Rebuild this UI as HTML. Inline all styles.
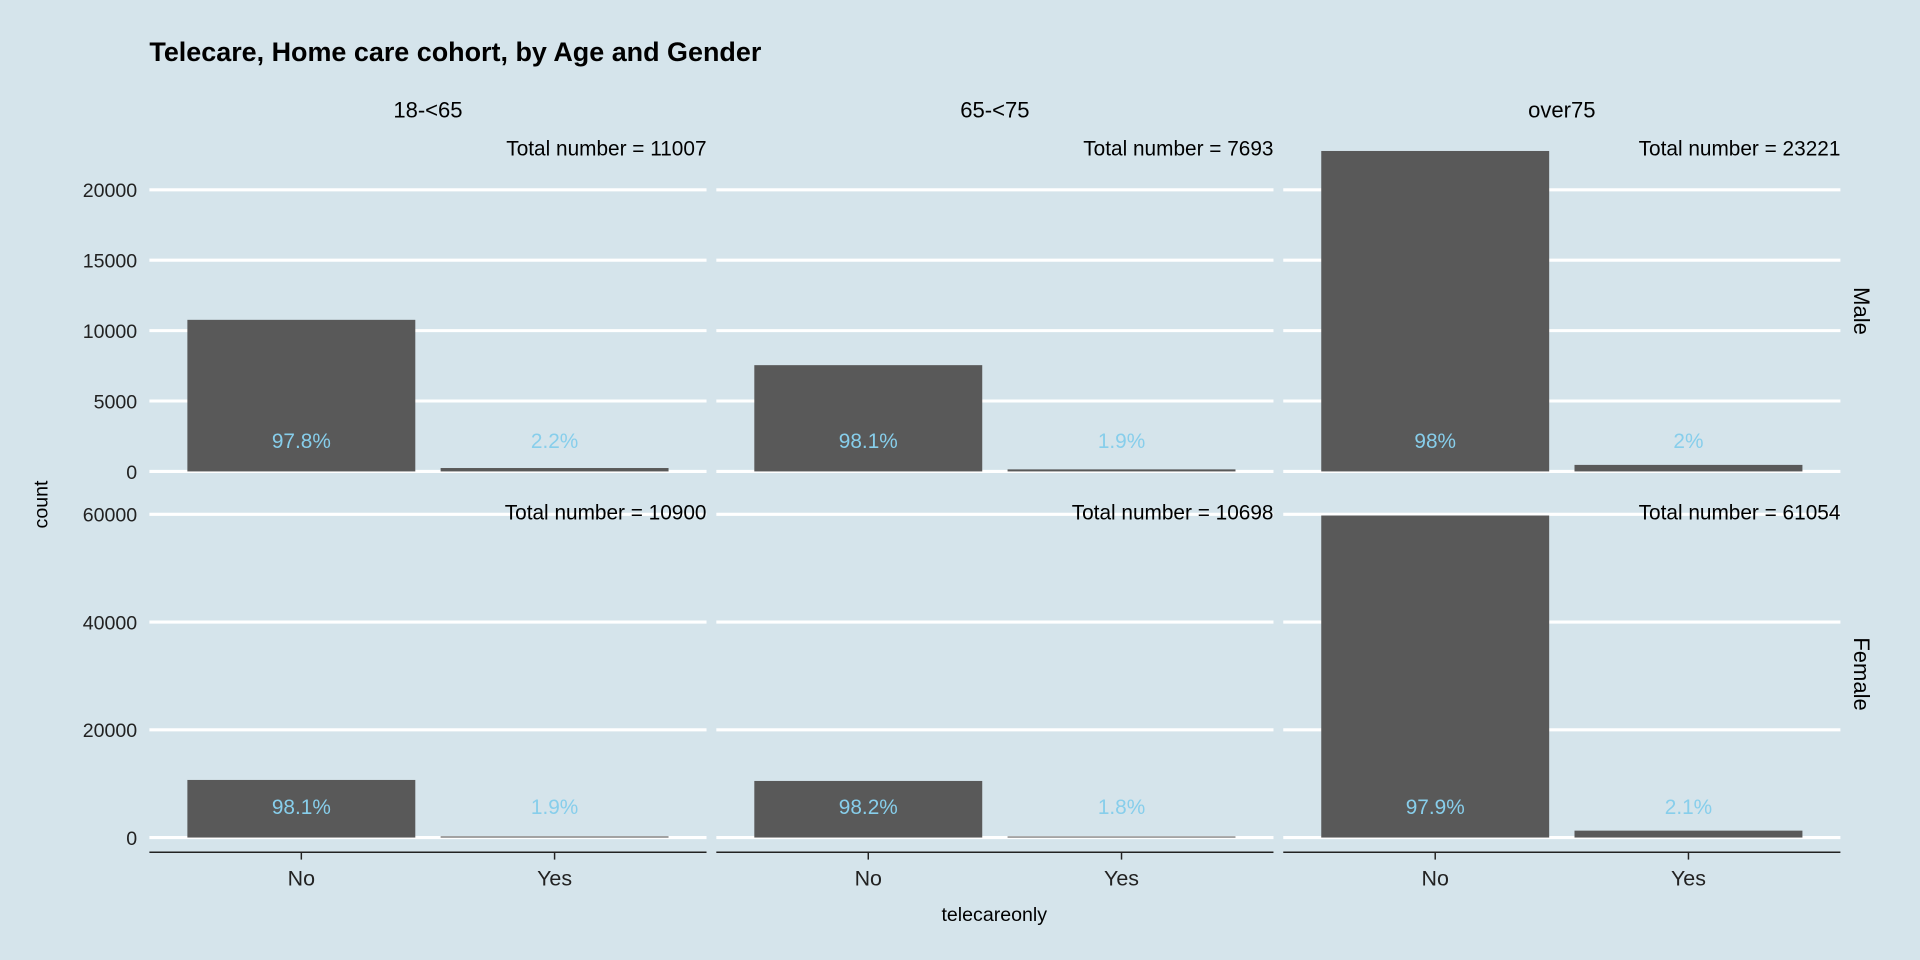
<!DOCTYPE html>
<html><head><meta charset="utf-8"><style>
body{margin:0;background:#d5e4eb;}
svg{display:block;font-family:"Liberation Sans",sans-serif;}
</style></head><body>
<svg id="chart" width="1920" height="960" viewBox="0 0 1568 784" xmlns="http://www.w3.org/2000/svg">
<rect width="1568" height="784" fill="#d5e4eb"/>
<text x="122" y="50" font-size="22" font-weight="bold">Telecare, Home care cohort, by Age and Gender</text>
<g id="plot"></g>
</svg>
<script>
const ages = ["18-<65","65-<75","over75"];
const genders = ["Male","Female"];
const categories = ["No","Yes"];
const maleNo = [10765, 7547, 22757];
const maleYes = [242, 146, 464];
const femaleNo = [10693, 10505, 59772];
const femaleYes = [207, 193, 1282];
const maleTotals = [11007, 7693, 23221];
const femaleTotals = [10900, 10698, 61054];
const malePct = ["97.8%","98.1%","98%"];
const malePctYes = ["2.2%","1.9%","2%"];
const femalePct = ["98.1%","98.2%","97.9%"];
const femalePctYes = ["1.9%","1.8%","2.1%"];
const maleTicks = [0,5000,10000,15000,20000];
const femaleTicks = [0,20000,40000,60000];

const NS="http://www.w3.org/2000/svg";
const g=document.getElementById('plot');
function mk(t,a,txt){const e=document.createElementNS(NS,t);for(const k in a)e.setAttribute(k,a[k]);if(txt!==undefined)e.textContent=txt;g.appendChild(e);return e;}
const panelX=[122,585,1048], panelW=455;
const rows=[
 {zero:385,scale:230/20000,top:113,bottom:395,no:maleNo,yes:maleYes,tot:maleTotals,p1:malePct,p2:malePctYes,ticks:maleTicks},
 {zero:684,scale:264/60000,top:408,bottom:693,no:femaleNo,yes:femaleYes,tot:femaleTotals,p1:femalePct,p2:femalePctYes,ticks:femaleTicks}
];
function xc(p,i){return panelX[p]+(0.6+i)*panelW/2.2;}
const bw=0.9*panelW/2.2;
rows.forEach((r,ri)=>{
  const y=v=>r.zero-v*r.scale;
  const maxTot=Math.max(...r.tot);
  r.ticks.forEach(t=>{
    let e=mk('text',{x:112,y:y(t)+6,'font-size':16,'text-anchor':'end',fill:'#222'},t);
    
    
  });
  for(let p=0;p<3;p++){
    r.ticks.forEach(t=>{
      let l=mk('line',{x1:panelX[p],x2:panelX[p]+panelW,y1:y(t),y2:y(t),stroke:'#fff','stroke-width':2.5});
      
      
    });
    [r.no[p],r.yes[p]].forEach((v,i)=>{
      let b=mk('rect',{x:xc(p,i)-bw/2,y:y(v),width:bw,height:Math.max(v*r.scale,0.5),fill:'#595959'});
      
      
    });
    const ly=y(maxTot*0.094)+6;
    [r.p1[p],r.p2[p]].forEach((s,i)=>{
      let e=mk('text',{x:xc(p,i),y:ly,'font-size':17,'text-anchor':'middle',fill:'#87ceeb'},s);
      
      
    });
    let tt=mk('text',{x:panelX[p]+panelW,y:y(maxTot)+9,'font-size':17,'text-anchor':'end',fill:'#000'},'Total number = '+r.tot[p]);
    
    
  }
  const cy=(r.top+r.bottom)/2;
  let st=mk('text',{x:1514,y:cy,'font-size':18,'text-anchor':'middle',transform:'rotate(90 1514 '+cy+')'},genders[ri]);
  
  
});
ages.forEach((a,p)=>{
  let e=mk('text',{x:panelX[p]+panelW/2,y:96,'font-size':18,'text-anchor':'middle'},a);
  
  
  let ax=mk('line',{x1:panelX[p],x2:panelX[p]+panelW,y1:696,y2:696,stroke:'#222','stroke-width':1.2});
  
  
  categories.forEach((c,i)=>{
    let t=mk('line',{x1:xc(p,i),x2:xc(p,i),y1:696,y2:702,stroke:'#222','stroke-width':1.2});
    
    
    let l=mk('text',{x:xc(p,i),y:723,'font-size':17.5,'text-anchor':'middle',fill:'#222'},c);
    
    
  });
});
let xt=mk('text',{x:812,y:752,'font-size':16,'text-anchor':'middle'},'telecareonly');


let yt=mk('text',{x:39,y:412,'font-size':16,'text-anchor':'middle',transform:'rotate(-90 39 412)'},'count');


</script>
</body></html>
